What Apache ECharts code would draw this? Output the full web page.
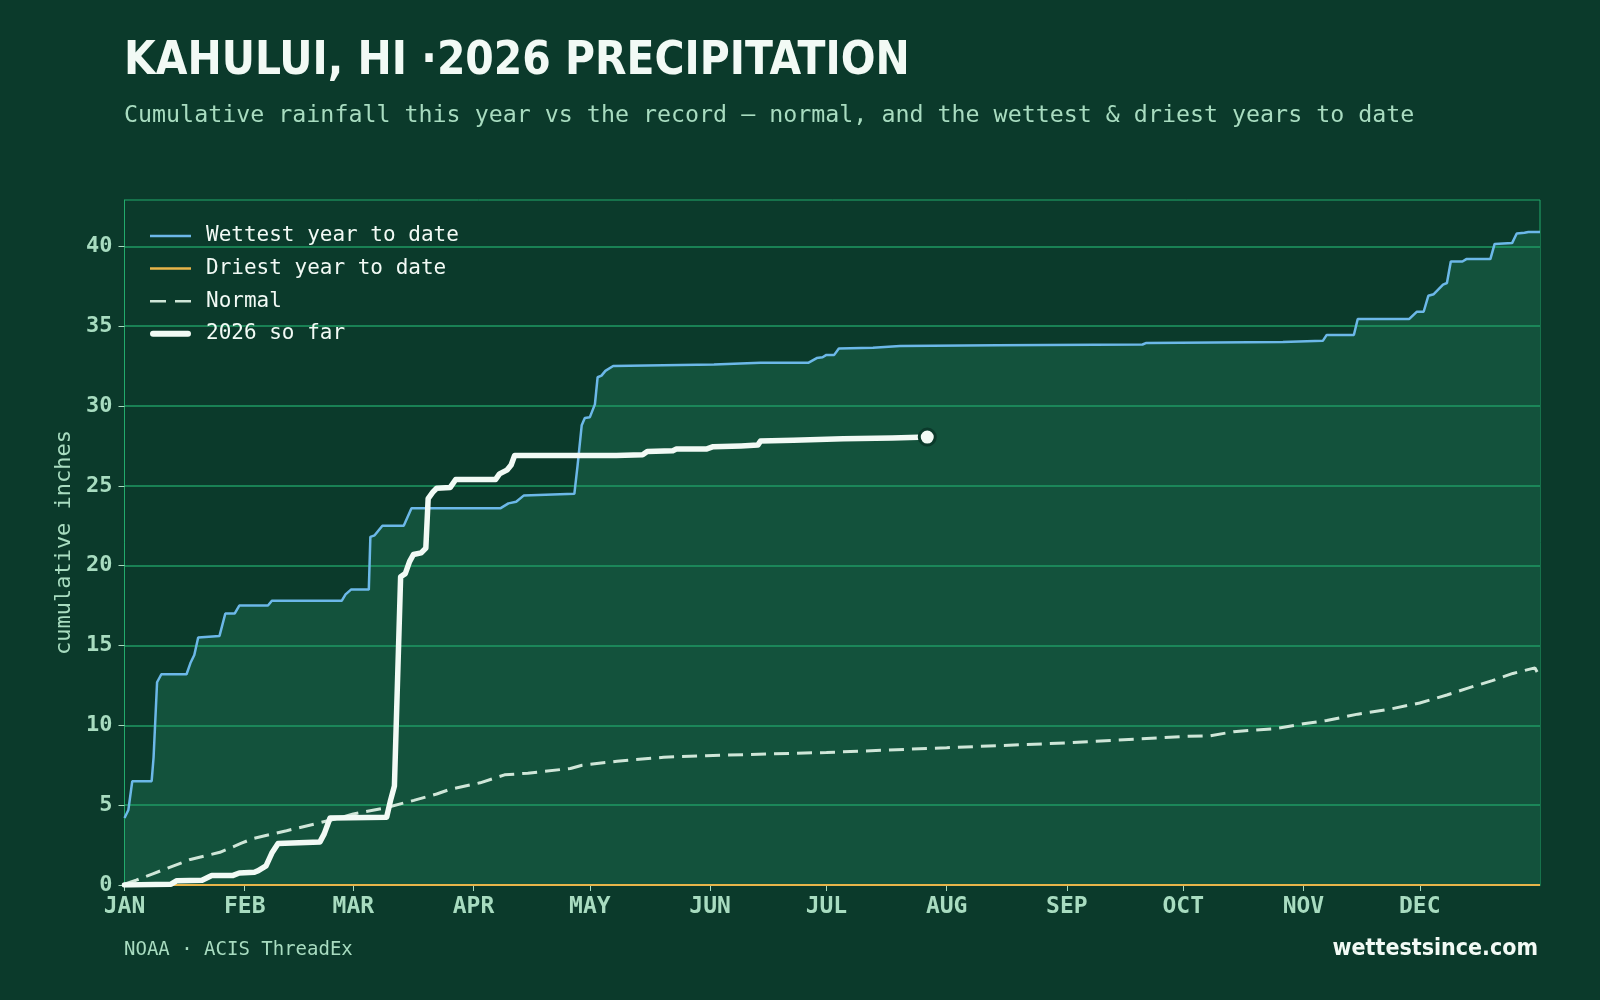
<!DOCTYPE html>
<html><head><meta charset="utf-8">
<script src="https://cdn.jsdelivr.net/npm/echarts@6/dist/echarts.min.js"></script>
<style>html,body{margin:0;padding:0;background:#0b3a2b;}#c{width:1600px;height:1000px;}</style>
</head><body><div id="c"></div>
<script>
// ---- data (day of year from Jan 1 = 0, cumulative inches) ----
const monthLabels = ['JAN','FEB','MAR','APR','MAY','JUN','JUL','AUG','SEP','OCT','NOV','DEC'];
const monthStartDays = [0,31,59,90,120,151,181,212,243,273,304,334];
const yTickValues = [0,5,10,15,20,25,30,35,40];

const wettest = [[0,4.2],[1,4.7],[2,6.5],[7,6.5],[7.5,8.0],[8.4,12.7],[9.5,13.2],[16,13.2],[17,13.9],[18,14.4],[19,15.5],[24.5,15.6],[26,17.0],[28.4,17.0],[29.6,17.5],[37,17.5],[38,17.8],[56,17.8],[57,18.2],[58.4,18.5],[63,18.5],[63.4,21.8],[64.5,21.9],[66.5,22.5],[72,22.5],[74,23.6],[97,23.6],[99,23.9],[101,24.0],[103,24.4],[116,24.5],[116.8,26.2],[117.9,28.8],[118.7,29.25],[120,29.3],[121.3,30.1],[122,31.8],[123,31.9],[124,32.2],[126,32.5],[152,32.6],[164,32.7],[176.3,32.7],[178.5,33.0],[180,33.05],[181,33.2],[183,33.2],[184.2,33.6],[193,33.65],[200,33.75],[225,33.8],[262.5,33.85],[263.5,33.95],[298.7,34.0],[309,34.08],[310,34.45],[317,34.45],[318,35.45],[331.3,35.45],[333.2,35.9],[335,35.9],[336.2,36.9],[337.6,37.0],[340,37.6],[341,37.7],[342,39.05],[345,39.05],[346,39.2],[352.2,39.2],[353.3,40.15],[357.8,40.2],[359,40.8],[361,40.85],[362,40.9],[365,40.9]];
const driest = [[0,0],[365,0]];
const normal = [[0,0.05],[3,0.3],[7.3,0.7],[17,1.6],[24.6,2.05],[30,2.6],[33,2.9],[41.8,3.4],[53.8,4.1],[59,4.45],[67.6,4.85],[74.6,5.3],[80.5,5.7],[84,6.0],[91.7,6.4],[98,6.9],[104,7.0],[115,7.3],[118,7.5],[127,7.75],[139,8.0],[150,8.1],[181,8.3],[212,8.6],[243,8.9],[273,9.3],[280,9.35],[286,9.6],[297,9.8],[304,10.1],[310,10.3],[318,10.7],[326,11.0],[334,11.4],[341,11.9],[346,12.3],[352.7,12.8],[358,13.25],[363.7,13.6],[365,13.0]];
const thisYear = [[0,0.0],[12,0.05],[13.5,0.27],[20,0.3],[22.5,0.6],[28,0.6],[29.6,0.75],[33.5,0.8],[34.5,0.9],[36.5,1.2],[38,2.0],[39.6,2.6],[50.4,2.7],[51.5,3.2],[53,4.2],[67.6,4.25],[68.6,5.3],[69.6,6.2],[71.2,19.3],[72.4,19.5],[73.5,20.25],[74.5,20.7],[76.5,20.8],[77.7,21.1],[78.3,24.2],[79.5,24.6],[80.5,24.85],[84,24.9],[85.4,25.4],[95.7,25.4],[96.7,25.75],[98.7,26.0],[99.7,26.3],[100.6,26.9],[126.8,26.9],[133.6,26.95],[134.8,27.15],[141.4,27.2],[142.3,27.3],[150,27.3],[151.8,27.45],[159,27.5],[163.3,27.55],[164,27.8],[172.5,27.85],[185.3,27.95],[198,28.0],[207,28.05]];

const titleText = 'KAHULUI, HI ·2026 PRECIPITATION';
const subtitleText = 'Cumulative rainfall this year vs the record — normal, and the wettest & driest years to date';
const sourceText = 'NOAA · ACIS ThreadEx';
const brandText = 'wettestsince.com';
const yAxisName = 'cumulative inches';
const legendNames = ['Wettest year to date', 'Driest year to date', 'Normal', '2026 so far'];

// ---- styles ----
const BG = '#0b3a2b', AREA = '#13523c', GRID = '#1f9a63', BORDER = '#22aa6c';
const LABEL = '#a8dcc0', WHITE = '#f2faf5', BLUE = '#6cb8e8', ORANGE = '#e8b54a', DASH = '#cfe6d8';
const MONO = "'DejaVu Sans Mono', monospace";
const SANS = "'Liberation Sans Narrow', 'DejaVu Sans Condensed', 'Open Sans', sans-serif";

const ICON_LINE = 'path://M0,0h41v2.5h-41z';
const ICON_DASH = 'path://M0,0h16v2.5h-16zM25,0h16v2.5h-16z';
const ICON_THICK = 'path://M3,0h35a3,3 0 0 1 0,6h-35a3,3 0 0 1 0,-6z';

const chart = echarts.init(document.getElementById('c'));
chart.setOption({
  backgroundColor: BG,
  animation: false,
  grid: { left: 124.5, right: 60, top: 200, bottom: 115, show: true, borderColor: BORDER, borderWidth: 1, backgroundColor: 'transparent' },
  graphic: [
    { type: 'text', left: 124, top: 39.5, style: { text: titleText, fill: WHITE, font: "bold 45.5px " + SANS } },
    { type: 'text', left: 124, top: 104, style: { text: subtitleText, fill: LABEL, font: "23.3px " + MONO } },
    { type: 'text', left: 124, top: 941, style: { text: sourceText, fill: LABEL, font: "19px " + MONO } },
    { type: 'text', right: 62, top: 938, style: { text: brandText, fill: WHITE, font: "bold 23px " + SANS } }
  ],
  legend: {
    orient: 'vertical', left: 145, top: 220, itemWidth: 41, itemHeight: 14, itemGap: 10.6,
    textStyle: { color: WHITE, fontFamily: MONO, fontSize: 21, lineHeight: 22, padding: [0,0,0,10] },
    data: [
      { name: legendNames[0], icon: ICON_LINE, itemStyle: { color: BLUE } },
      { name: legendNames[1], icon: ICON_LINE, itemStyle: { color: ORANGE } },
      { name: legendNames[2], icon: ICON_DASH, itemStyle: { color: DASH } },
      { name: legendNames[3], icon: ICON_THICK, itemStyle: { color: WHITE } }
    ]
  },
  xAxis: {
    type: 'value', min: 0, max: 365,
    axisLine: { show: true, lineStyle: { color: BORDER, width: 1 } },
    axisTick: { show: true, customValues: monthStartDays, length: 6, lineStyle: { color: LABEL, width: 1 } },
    axisLabel: { customValues: monthStartDays, color: LABEL, fontFamily: MONO, fontWeight: 'bold', fontSize: 23, margin: 11,
      formatter: v => monthLabels[monthStartDays.indexOf(Math.round(v))] || '' },
    splitLine: { show: false }
  },
  yAxis: {
    type: 'value', min: 0, max: 42.9, interval: 5, z: 2,
    name: yAxisName, nameLocation: 'middle', nameGap: 42, nameRotate: 90,
    nameTextStyle: { color: LABEL, fontFamily: MONO, fontSize: 22 },
    axisLine: { show: true, lineStyle: { color: BORDER, width: 1 } },
    axisTick: { show: true, customValues: yTickValues, length: 6, lineStyle: { color: LABEL, width: 1 } },
    axisLabel: { customValues: yTickValues, color: LABEL, fontFamily: MONO, fontWeight: 'bold', fontSize: 22, margin: 12 },
    splitLine: { show: true, lineStyle: { color: GRID, width: 1.5 } }
  },
  series: [
    { name: 'wettest-area', type: 'line', z: 1, data: wettest, symbol: 'none', silent: true,
      lineStyle: { width: 0, opacity: 0 }, areaStyle: { color: AREA, opacity: 1 } },
    { name: legendNames[2], type: 'line', z: 3, data: normal, symbol: 'none',
      lineStyle: { color: DASH, width: 3, type: [15, 8] }, itemStyle: { color: DASH } },
    { name: legendNames[1], type: 'line', z: 3, data: driest, symbol: 'none',
      lineStyle: { color: ORANGE, width: 2 }, itemStyle: { color: ORANGE } },
    { name: legendNames[0], type: 'line', z: 4, data: wettest, symbol: 'none',
      lineStyle: { color: BLUE, width: 2.5 }, itemStyle: { color: BLUE } },
    { name: legendNames[3], type: 'line', z: 5, data: thisYear, symbol: 'none',
      lineStyle: { color: WHITE, width: 5.5, cap: 'round', join: 'round' }, itemStyle: { color: WHITE } },
    { name: '2026 latest', type: 'scatter', z: 6, data: [thisYear[thisYear.length - 1]], symbolSize: 16,
      itemStyle: { color: WHITE, borderColor: BG, borderWidth: 3, opacity: 1 } }
  ]
});
</script></body></html>
